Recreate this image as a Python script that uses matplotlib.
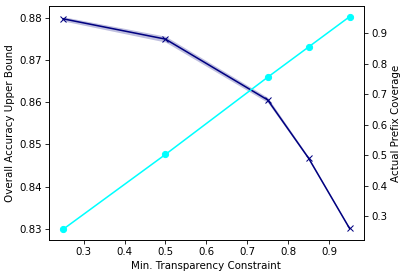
import matplotlib
matplotlib.use('Agg')
import matplotlib.pyplot as plt

# data
transparency = [0.25, 0.5, 0.75, 0.85, 0.95]
accuracy = [0.8797, 0.8749, 0.8605, 0.8467, 0.8301]
accuracy_std = [0.0005, 0.0007, 0.0006, 0.0003, 0.0002]
coverage = [0.258, 0.503, 0.756, 0.855, 0.954]

fig, ax1 = plt.subplots(figsize=(407 / 74, 277 / 74), dpi=74)
fig.subplots_adjust(left=0.120, right=0.894, bottom=0.134, top=0.978)

lo = [a - s for a, s in zip(accuracy, accuracy_std)]
hi = [a + s for a, s in zip(accuracy, accuracy_std)]
ax1.fill_between(transparency, lo, hi, color='navy', alpha=0.25, linewidth=0)
ax1.plot(transparency, accuracy, color='navy', marker='x')
ax1.set_xlabel('Min. Transparency Constraint')
ax1.set_ylabel('Overall Accuracy Upper Bound')

ax2 = ax1.twinx()
ax2.plot(transparency, coverage, color='cyan', marker='o')
ax2.set_ylabel('Actual Prefix Coverage')

fig.savefig('out.png', dpi=74)
